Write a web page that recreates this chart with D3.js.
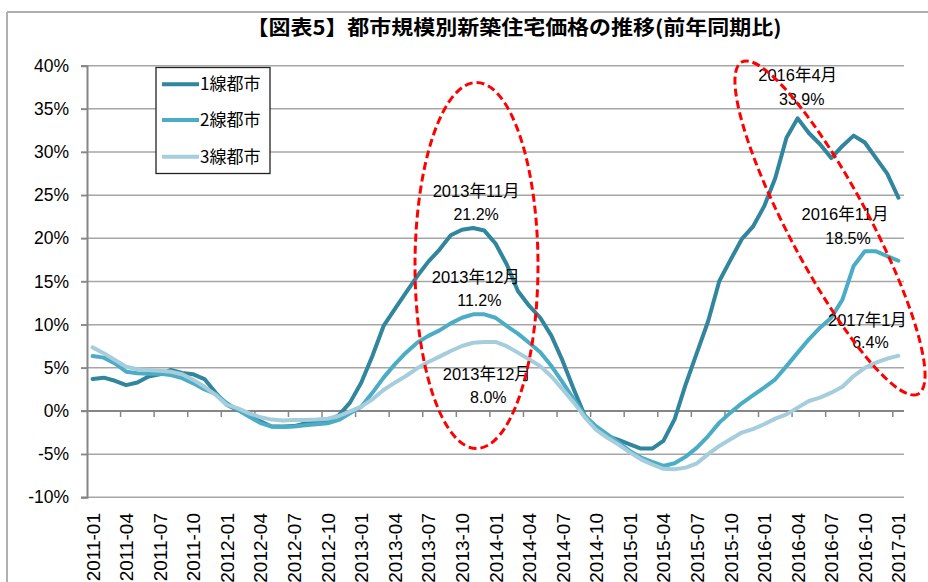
<!DOCTYPE html>
<html><head><meta charset="utf-8">
<script src="https://cdn.jsdelivr.net/npm/d3@7"></script>
<style>
html,body{margin:0;padding:0;background:#fff;}
svg{display:block;}
text{font-family:"Liberation Sans","Noto Sans CJK JP",sans-serif;}
.jp{font-family:"Noto Sans CJK JP","Liberation Sans",sans-serif;}
</style></head>
<body>
<svg id="c" width="928" height="582"></svg>
<script>
const categories = [
"2011-01","2011-02","2011-03","2011-04","2011-05","2011-06","2011-07","2011-08","2011-09","2011-10","2011-11","2011-12",
"2012-01","2012-02","2012-03","2012-04","2012-05","2012-06","2012-07","2012-08","2012-09","2012-10","2012-11","2012-12",
"2013-01","2013-02","2013-03","2013-04","2013-05","2013-06","2013-07","2013-08","2013-09","2013-10","2013-11","2013-12",
"2014-01","2014-02","2014-03","2014-04","2014-05","2014-06","2014-07","2014-08","2014-09","2014-10","2014-11","2014-12",
"2015-01","2015-02","2015-03","2015-04","2015-05","2015-06","2015-07","2015-08","2015-09","2015-10","2015-11","2015-12",
"2016-01","2016-02","2016-03","2016-04","2016-05","2016-06","2016-07","2016-08","2016-09","2016-10","2016-11","2016-12",
"2017-01"];

const tier1 = [3.7,3.86,3.5,3.0,3.3,4.0,4.25,4.75,4.4,4.25,
3.7,2.1,0.7,0.1,-0.45,-1.2,-1.8,-1.8,-1.75,-1.45,
-1.35,-1.1,-0.5,0.97,3.28,6.37,9.85,11.8,13.7,15.6,
17.3,18.7,20.35,21.0,21.2,20.9,19.4,17.0,13.9,12.2,
10.8,8.7,5.8,2.5,-0.6,-2.0,-2.9,-3.36,-3.86,-4.36,
-4.36,-3.47,-0.97,3.1,6.76,10.4,15.06,17.5,19.9,21.35,
23.7,27.0,31.66,33.9,32.2,30.9,29.3,30.7,31.9,31.1,
29.3,27.5,24.7];

const tier2 = [6.37,6.18,5.5,4.55,4.37,4.3,4.3,4.17,3.8,3.2,
2.5,1.97,0.9,0.1,-0.66,-1.4,-1.8,-1.85,-1.8,-1.65,
-1.55,-1.43,-1.04,-0.27,0.5,2.1,3.86,5.4,6.76,7.9,
8.7,9.34,10.15,10.8,11.2,11.2,10.8,9.85,8.96,7.9,
6.8,5.2,3.3,1.35,-0.58,-1.8,-2.7,-3.67,-4.63,-5.4,
-5.9,-6.37,-6.06,-5.29,-4.25,-2.9,-1.35,-0.19,0.89,1.81,
2.7,3.67,5.2,6.76,8.3,9.65,10.8,12.9,16.8,18.5,
18.5,17.95,17.4];

const tier3 = [7.37,6.68,5.9,5.13,4.83,4.75,4.67,4.55,4.25,3.6,
2.8,1.85,0.7,0.3,-0.27,-0.73,-1.0,-1.1,-1.05,-1.05,
-1.0,-0.9,-0.58,-0.04,0.5,1.35,2.43,3.28,4.05,4.94,
5.68,6.3,6.95,7.53,7.9,8.0,8.0,7.5,6.76,6.0,
5.2,4.0,2.5,0.97,-0.77,-2.2,-3.1,-3.9,-4.8,-5.6,
-6.2,-6.7,-6.76,-6.56,-6.06,-5.0,-4.05,-3.28,-2.5,-2.1,
-1.54,-0.89,-0.39,0.39,1.16,1.54,2.12,2.8,4.05,5.0,
5.6,6.06,6.4];

const seriesNames = ["1線都市","2線都市","3線都市"];
const seriesColors = ["#31859C","#4BACC6","#A5CDDB"];
const tickLabels = categories.filter((d,i)=>i%3===0);
const yTicks = [-10,-5,0,5,10,15,20,25,30,35,40];
const title = "【図表5】都市規模別新築住宅価格の推移(前年同期比)";

const annotations = [
  {cat:"2013-11", l1:"2013年11月", l2:"21.2%", dx1:3,   dx2:3,   y1:191, y2:214},
  {cat:"2013-12", l1:"2013年12月", l2:"11.2%", dx1:-8.5,dx2:-5,  y1:277, y2:300},
  {cat:"2013-12", l1:"2013年12月", l2:"8.0%",  dx1:2.5, dx2:4,   y1:374, y2:397},
  {cat:"2016-04", l1:"2016年4月",  l2:"33.9%", dx1:0,   dx2:4,   y1:75,  y2:99},
  {cat:"2016-11", l1:"2016年11月", l2:"18.5%", dx1:-31, dx2:-28, y1:214, y2:238},
  {cat:"2017-01", l1:"2017年1月",  l2:"6.4%",  dx1:-31, dx2:-28, y1:320, y2:342}
];

const svg = d3.select("#c");
const L = 87, R = 904, T = 65.7, B = 497.3;
const x = d3.scaleBand().domain(categories).range([L, R]).padding(0);
const y = d3.scaleLinear().domain([-10, 40]).range([B, T]);
const cx = d => x(d) + x.bandwidth()/2;

// outer frame (top and left visible)
svg.append("line").attr("x1",7).attr("x2",928).attr("y1",12).attr("y2",12).attr("stroke","#b0b0b0").attr("stroke-width",2);
svg.append("line").attr("x1",7).attr("x2",7).attr("y1",12).attr("y2",582).attr("stroke","#b0b0b0").attr("stroke-width",2);

// title
svg.append("text").attr("class","jp").attr("x",514).attr("y",35).attr("text-anchor","middle")
  .attr("font-size",20).attr("font-weight","bold").attr("fill","#000")
  .attr("textLength",535).attr("lengthAdjust","spacingAndGlyphs").text(title);

// gridlines
svg.append("g").selectAll("line").data(yTicks.filter(d=>d!==0)).join("line")
  .attr("x1",L-6).attr("x2",R).attr("y1",d=>y(d)).attr("y2",d=>y(d))
  .attr("stroke","#a6a6a6").attr("stroke-width",1.5);

// y axis
const yAxis = d3.axisLeft(y).tickValues(yTicks).tickFormat(d=>d+"%").tickSize(6).tickPadding(12);
const gy = svg.append("g").attr("transform",`translate(${L},0)`).call(yAxis);
gy.select(".domain").attr("stroke","#868686").attr("stroke-width",2);
gy.selectAll(".tick line").attr("stroke","#868686").attr("stroke-width",1.5);
gy.selectAll(".tick text").attr("font-size",17.5).attr("fill","#000").attr("font-family","Liberation Sans, sans-serif");

// x axis at 0
const y0 = y(0);
svg.append("line").attr("x1",L-6).attr("x2",R).attr("y1",y0).attr("y2",y0).attr("stroke","#868686").attr("stroke-width",2);
const tickCats = categories.filter((d,i)=>i>0 && i%3===0);
svg.append("g").selectAll("line").data(tickCats).join("line")
  .attr("x1",d=>x(d)).attr("x2",d=>x(d)).attr("y1",y0).attr("y2",y0+6)
  .attr("stroke","#868686").attr("stroke-width",1.5);

// x labels
svg.append("g").selectAll("text").data(tickLabels).join("text")
  .attr("transform",d=>`translate(${cx(d)+7},513) rotate(-90)`)
  .attr("text-anchor","end").attr("font-size",19).attr("fill","#000").text(d=>d);

// series lines
const line = d3.line().x((d,i)=>cx(categories[i])).y(d=>y(d));
[tier1,tier2,tier3].forEach((s,k)=>{
  svg.append("path").datum(s).attr("d",line).attr("fill","none")
    .attr("stroke",seriesColors[k]).attr("stroke-width",4)
    .attr("stroke-linejoin","round").attr("stroke-linecap","round");
});

// annotations
const ag = svg.append("g").attr("class","jp");
annotations.forEach(a=>{
  const base = cx(a.cat);
  ag.append("text").attr("x",base+a.dx1).attr("y",a.y1+6).attr("text-anchor","middle").attr("font-size",16.5).attr("fill","#000").text(a.l1);
  ag.append("text").attr("x",base+a.dx2).attr("y",a.y2+6).attr("text-anchor","middle").attr("font-size",16).attr("fill","#000")
    .attr("font-family","Liberation Sans, sans-serif").text(a.l2);
});

// red dashed ellipses
svg.append("ellipse").attr("cx",476.5).attr("cy",265.5).attr("rx",61.5).attr("ry",183)
  .attr("fill","none").attr("stroke","#ff0000").attr("stroke-width",3).attr("stroke-dasharray","8,4");
svg.append("ellipse").attr("transform","translate(830,228) rotate(62)").attr("rx",188).attr("ry",40)
  .attr("fill","none").attr("stroke","#ff0000").attr("stroke-width",3).attr("stroke-dasharray","8,4");

// legend
const lg = svg.append("g");
lg.append("rect").attr("x",156).attr("y",67.5).attr("width",114).attr("height",106).attr("fill","#fff").attr("stroke","#222").attr("stroke-width",1.3);
const ly = [84.3,120,156.7];
seriesNames.forEach((n,k)=>{
  lg.append("line").attr("x1",162).attr("x2",199).attr("y1",ly[k]).attr("y2",ly[k]).attr("stroke",seriesColors[k]).attr("stroke-width",4);
  lg.append("text").attr("class","jp").attr("x",200).attr("y",ly[k]+6).attr("font-size",17).attr("fill","#000").text(n);
});
</script>
</body></html>
